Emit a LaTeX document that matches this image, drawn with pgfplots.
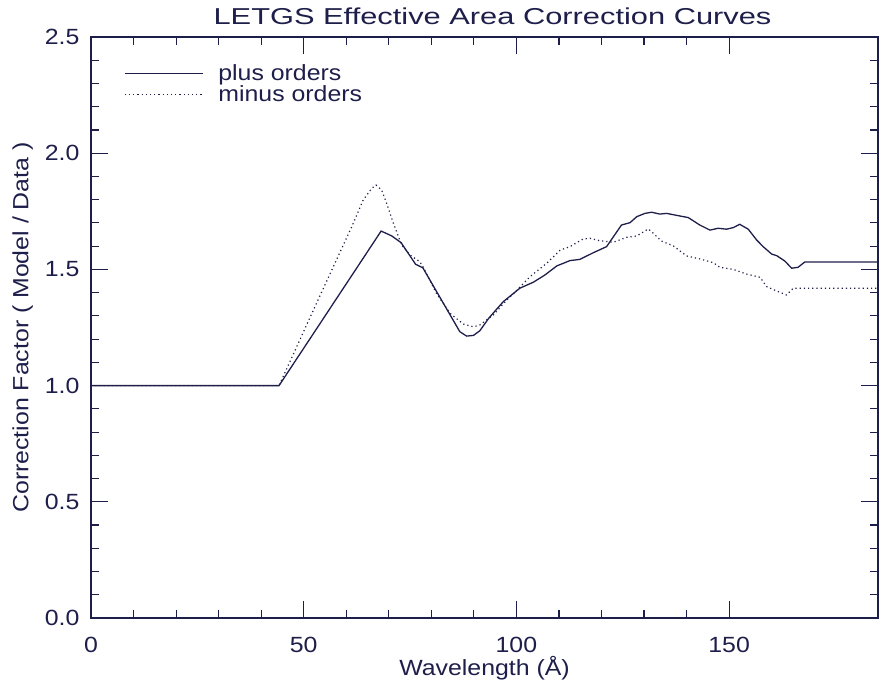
\documentclass[border=0pt]{standalone}
\usepackage{fontspec}
\setmainfont[FakeStretch=1.13]{Liberation Sans}
\newfontfamily\titlefont[FakeStretch=1.34]{Liberation Sans}
\usepackage{pgfplots}
\pgfplotsset{compat=1.18}
\definecolor{navy}{RGB}{30,30,75}
\begin{document}
\begin{tikzpicture}
\path[use as bounding box] (-91pt,-71pt) rectangle (789pt,618pt);
\begin{axis}[
  at={(0,0)}, anchor=south west,
  scale only axis, width=787pt, height=581pt,
  xmin=0, xmax=185, ymin=0, ymax=2.5,
  axis line style={navy, line width=1.4pt},
  every tick/.style={navy, line width=1.1pt},
  tick align=inside,
  major tick length=17pt, minor tick length=8pt,
  xtick={0,50,100,150}, minor x tick num=4,
  ytick={0,0.5,1.0,1.5,2.0,2.5}, minor y tick num=4,
  yticklabel style={xshift=-8pt, /pgf/number format/.cd, fixed, fixed zerofill, precision=1},
  /pgf/number format/assume math mode=true,
  tick label style={font=\fontsize{22}{24}\selectfont, text=navy},
  xticklabel style={yshift=-16pt},
  label style={font=\fontsize{22}{24}\selectfont, text=navy},
  xlabel={Wavelength (Å)},
  ylabel={Correction Factor ( Model / Data )},
  xlabel style={yshift=4pt},
  ylabel style={yshift=5pt},
  title={\titlefont LETGS Effective Area Correction Curves},
  title style={font=\fontsize{23}{26}\selectfont, text=navy, yshift=3pt, xshift=8pt},
  legend style={draw=none, fill=none, at={(0.038,0.96)}, anchor=north west,
    font=\fontsize{22}{24}\selectfont, text=navy, row sep=0pt, column sep=13pt},
  legend cell align=left,
  legend image code/.code={\draw[#1] (0pt,0pt) -- (78pt,0pt);},
]
\addplot[navy, line width=1.3pt] coordinates {
(0,1.0) (44.2,1.0) (68.2,1.665) (70.7,1.644) (72.9,1.615) (76.3,1.522) (78.0,1.507)
(86.7,1.232) (88.3,1.213) (89.9,1.216) (91.4,1.236) (93.5,1.290) (96.9,1.361)
(100.8,1.419) (104.0,1.445) (106.7,1.476) (109.5,1.515) (112.6,1.538) (114.9,1.543)
(118.1,1.572) (121.2,1.598) (124.7,1.691) (126.7,1.701) (128.3,1.727) (130.2,1.741)
(131.8,1.746) (133.7,1.738) (135.3,1.741) (138.4,1.730) (140.4,1.723) (143.1,1.691)
(145.5,1.669) (147.4,1.677) (149.4,1.673) (151.0,1.680) (152.5,1.694) (154.5,1.673)
(156.5,1.626) (158.0,1.598) (160.0,1.566) (161.2,1.559) (163.1,1.536) (164.7,1.505)
(166.2,1.509) (167.8,1.532) (185,1.532)
};
\addlegendentry{plus orders}
\addplot[navy, line width=1.2pt, dash pattern=on 1.2pt off 3pt] coordinates {
(0,1.0) (44.2,1.0) (53.0,1.354) (61.3,1.684) (64.0,1.799) (66.0,1.849) (67.0,1.863)
(68.3,1.842) (69.5,1.784) (71.1,1.698) (73.0,1.605) (75.0,1.562) (77.3,1.533)
(78.1,1.509) (81.2,1.397) (84.4,1.311) (87.5,1.265) (89.9,1.253) (91.4,1.261)
(94.6,1.304) (97.7,1.368) (99.3,1.395) (103.2,1.469) (107.1,1.526) (110.3,1.583)
(112.6,1.598) (115.7,1.631) (117.3,1.634) (119.7,1.623) (122.8,1.617) (125.9,1.638)
(128.3,1.644) (131.0,1.674) (132.2,1.655) (134.1,1.622) (136.9,1.601) (140.0,1.558)
(143.1,1.545) (146.3,1.529) (147.8,1.509) (151.0,1.500) (154.1,1.480) (157.3,1.466)
(158.8,1.426) (161.2,1.407) (163.5,1.390) (165.1,1.419) (185,1.419)
};
\addlegendentry{minus orders}
\end{axis}
\end{tikzpicture}
\end{document}
